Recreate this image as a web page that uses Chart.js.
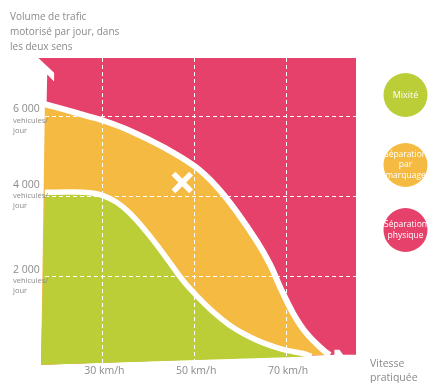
<!DOCTYPE html>
<html>
<head>
<meta charset="utf-8">
<style>
  html, body { margin: 0; padding: 0; background: #ffffff; }
  #wrap { width: 428px; height: 383px; position: relative; }
</style>
<script src="https://cdn.jsdelivr.net/npm/chart.js@4.4.1/dist/chart.umd.min.js"></script>
</head>
<body>
<div id="wrap"><canvas id="chart" width="428" height="383"></canvas></div>
<script>
// Axis ticks and their labels
const speedTicks = [30, 50, 70];
const speedLabels = ['30 km/h', '50 km/h', '70 km/h'];
const volumeTicks = [2000, 4000, 6000];
const volumeLabels = ['2 000', '4 000', '6 000'];
const unitLabel = ['vehicules/', 'jour'];
const volumeTitle = ['Volume de trafic', 'motorisé par jour, dans', 'les deux sens'];
const speedTitle = ['Vitesse', 'pratiquée'];

// Zones (legend order) and their colours
const zoneNames = [['Mixité'], ['Séparation', 'par', 'marquage'], ['Séparation', 'physique']];
const zoneColors = ['#BBCE37', '#F5BA41', '#E6416B'];

// Boundary between marking and physical separation (km/h, vehicles/day)
const upperSpeed  = [17.5, 21.5, 26.6, 29.9, 36.0, 43.3, 50.3, 54.9, 59.2, 63.6, 66.5, 68.7, 71.6, 74.5, 78.1, 79.5];
const upperVolume = [6306, 6182, 6017, 5911, 5646, 5236, 4742, 4248, 3630, 2889, 2310, 1742, 1075, 581, 170, 54];

// Boundary between mixed traffic and marking
const lowerSpeed  = [17.5, 23.0, 27.3, 29.9, 33.1, 36.0, 38.9, 41.8, 44.7, 47.6, 50.5, 54.2, 57.8, 61.4, 65.0, 69.4, 73.7, 75.5];
const lowerVolume = [4110, 4115, 4100, 4040, 3860, 3588, 3217, 2805, 2352, 1900, 1530, 1117, 788, 541, 351, 185, 86, 15];

// Outline of the diagram, with its two arrow notches
const frameSpeed  = [16.1, 85.2, 85.2, 82.4, 81.6, 80.5, 80.5, 16.7, 18.0, 19.5, 19.5];
const frameVolume = [7460, 7460, 55, 55, 180, 180, 55, -195, 7047, 6875, 7095];
const BOTTOM_LEFT = 7;

// Example situation marked with a cross
const markSpeed = [47.4];
const markVolume = [4354];

const pts = (xs, ys) => xs.map((x, i) => ({ x, y: ys[i] }));
const frame = pts(frameSpeed, frameVolume);
const upper = pts(upperSpeed, upperVolume);
const lower = pts(lowerSpeed, lowerVolume);
const corner = frame[BOTTOM_LEFT];

// Closed area under a curve; repeated end points keep the corners sharp
const areaUnder = (curve) => [corner, curve[0], ...curve, curve[curve.length - 1]];

const none = 'rgba(0,0,0,0)';
const FONT = '"Open Sans", "Noto Sans", sans-serif';

const annotate = {
  id: 'annotate',
  afterDraw(chart) {
    const { ctx } = chart;
    const xs = chart.scales.x, ys = chart.scales.y;
    ctx.save();
    ctx.textBaseline = 'middle';
    ctx.fillStyle = '#8b8b8b';

    ctx.textAlign = 'left';
    ctx.font = '10px ' + FONT;
    volumeTitle.forEach((t, i) => ctx.fillText(t, 10, 17 + i * 15));

    const shift = { 4000: -5 };
    volumeTicks.forEach((v, i) => {
      const y = ys.getPixelForValue(v) + (shift[v] || 0);
      ctx.font = '10.5px ' + FONT;
      ctx.fillText(volumeLabels[i], 13, y - 7);
      ctx.font = '7.5px ' + FONT;
      ctx.fillText(unitLabel[0], 13, y + 4.5);
      ctx.fillText(unitLabel[1], 13, y + 14.5);
    });

    ctx.textAlign = 'center';
    ctx.font = '10.5px ' + FONT;
    speedTicks.forEach((v, i) => ctx.fillText(speedLabels[i], xs.getPixelForValue(v) + 2, 371));

    ctx.textAlign = 'left';
    speedTitle.forEach((t, i) => ctx.fillText(t, 370, 364 + i * 14));

    // Zone legend
    const cx = 405.5, cys = [95, 165, 230], r = 22;
    zoneNames.forEach((lines, i) => {
      ctx.beginPath();
      ctx.arc(cx, cys[i], r, 0, Math.PI * 2);
      ctx.fillStyle = zoneColors[i];
      ctx.fill();
      ctx.fillStyle = '#ffffff';
      ctx.textAlign = 'center';
      ctx.font = (lines.length === 1 ? '9px ' : '8.5px ') + FONT;
      const step = 10.5;
      lines.forEach((t, j) => ctx.fillText(t, cx, cys[i] + (j - (lines.length - 1) / 2) * step));
    });
    ctx.restore();
  }
};

new Chart(document.getElementById('chart'), {
  type: 'line',
  data: {
    datasets: [
      { label: 'physique', data: frame, order: 6, tension: 0, fill: 'shape',
        backgroundColor: zoneColors[2], borderColor: none, borderWidth: 0, pointRadius: 0 },
      { label: 'marquage', data: areaUnder(upper), order: 5, tension: 0.4, fill: 'shape',
        backgroundColor: zoneColors[1], borderColor: none, borderWidth: 0, pointRadius: 0 },
      { label: 'mixite', data: areaUnder(lower), order: 4, tension: 0.4, fill: 'shape',
        backgroundColor: zoneColors[0], borderColor: none, borderWidth: 0, pointRadius: 0 },
      { label: 'limite haute', data: upper, order: 3, tension: 0.4, fill: false,
        borderColor: '#ffffff', borderWidth: 6, pointRadius: 0 },
      { label: 'limite basse', data: lower, order: 2, tension: 0.4, fill: false,
        borderColor: '#ffffff', borderWidth: 5.5, pointRadius: 0 },
      { label: 'situation', data: pts(markSpeed, markVolume), order: 1, showLine: false,
        pointStyle: 'crossRot', pointRadius: 12.5, borderWidth: 5.5, borderColor: '#ffffff',
        backgroundColor: '#ffffff' }
    ]
  },
  options: {
    responsive: false,
    animation: false,
    events: [],
    layout: { padding: { left: 38, right: 72, top: 58, bottom: 15 } },
    plugins: { legend: { display: false }, tooltip: { enabled: false }, title: { display: false } },
    scales: {
      x: {
        type: 'linear', min: 16, max: 85.2,
        ticks: { display: false },
        grid: { color: '#ffffff', lineWidth: 1, drawTicks: false, z: 1 },
        border: { display: false, dash: [4, 3] },
        afterBuildTicks: (s) => { s.ticks = speedTicks.map(v => ({ value: v })); }
      },
      y: {
        type: 'linear', min: -200, max: 7460,
        ticks: { display: false },
        grid: { color: '#ffffff', lineWidth: 1, drawTicks: false, z: 1 },
        border: { display: false, dash: [4, 3] },
        afterBuildTicks: (s) => { s.ticks = volumeTicks.map(v => ({ value: v })); }
      }
    }
  },
  plugins: [annotate]
});
</script>
</body>
</html>
